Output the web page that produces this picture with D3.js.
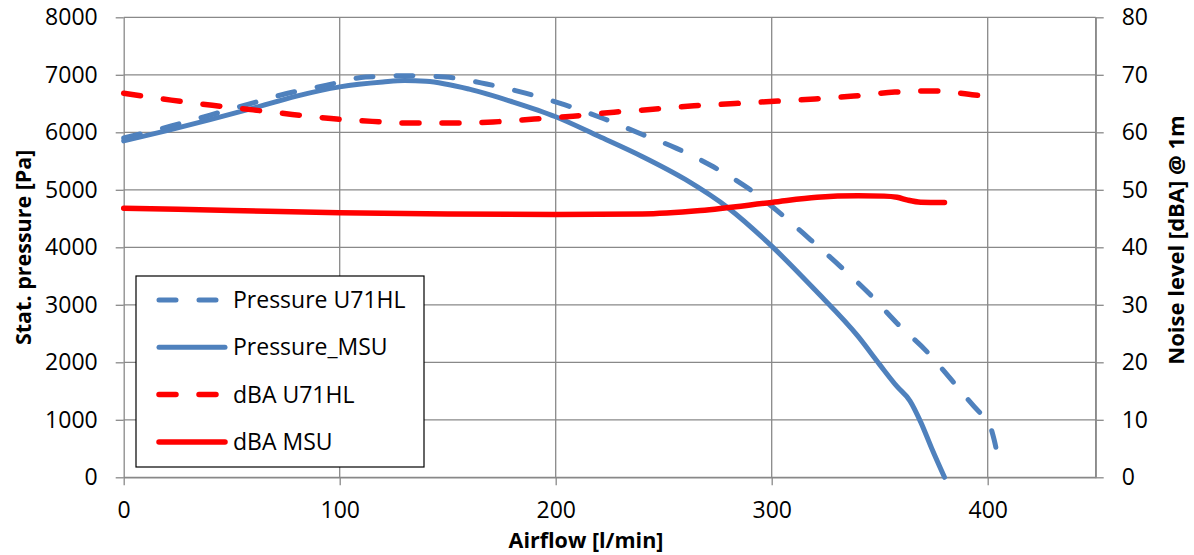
<!DOCTYPE html>
<html>
<head>
<meta charset="utf-8">
<script src="https://cdn.jsdelivr.net/npm/d3@7"></script>
<style>
  body { margin: 0; background: #fff; }
  text { font-family: "Open Sans", sans-serif; fill: #000; }
</style>
</head>
<body>
<div id="chart"></div>
<script>
// data
var msuFlow = [0, 20, 40, 60, 80, 100, 120, 130, 140, 160, 180, 200, 220, 240, 260, 280, 300, 320, 340, 350, 358, 364, 369, 374, 380];
var msuPressure = [5850, 6030, 6220, 6420, 6630, 6790, 6875, 6900, 6887, 6750, 6530, 6270, 5930, 5580, 5180, 4680, 4020, 3260, 2450, 1960, 1580, 1330, 960, 510, 0];

var u71Flow = [0, 22, 40, 57, 75, 94, 112, 131, 149, 168, 186, 204, 222, 239, 256, 273, 289, 304, 318, 332, 345, 358, 372, 384, 396, 400, 403, 405];
var u71Pressure = [5900, 6110, 6300, 6480, 6670, 6820, 6960, 6985, 6960, 6840, 6680, 6480, 6240, 5980, 5720, 5400, 5030, 4590, 4130, 3660, 3200, 2680, 2180, 1660, 1140, 1000, 650, 300];

var dbaU71Flow = [0, 22, 41, 60, 78, 96, 115, 134, 152, 171, 190, 208, 227, 245, 264, 283, 301, 320, 338, 357, 376, 394, 400];
var dbaU71 = [66.8, 65.6, 64.7, 63.9, 63.1, 62.4, 61.9, 61.6, 61.6, 61.8, 62.3, 62.8, 63.5, 64.0, 64.6, 65.0, 65.4, 65.8, 66.3, 67.0, 67.2, 66.5, 66.3];

var dbaMsuFlow = [0, 50, 100, 150, 200, 240, 267, 300, 321, 340, 352, 358, 363, 369, 380];
var dbaMsu = [46.8, 46.4, 46.0, 45.8, 45.7, 45.8, 46.4, 47.8, 48.7, 48.95, 48.9, 48.7, 48.2, 47.85, 47.8];

var flowTicks = [0, 100, 200, 300, 400];
var flowGrid = [100, 200, 300, 400, 450];
var pressureTicks = [0, 1000, 2000, 3000, 4000, 5000, 6000, 7000, 8000];
var noiseTicks = [0, 10, 20, 30, 40, 50, 60, 70, 80];

var svgWidth = 1194;
var svgHeight = 555;
var margin = {top: 17.3, right: 98.3, bottom: 77.7, left: 123.7};
var width = svgWidth - margin.left - margin.right;
var height = svgHeight - margin.top - margin.bottom;

var gridColor = "#898989";
var blue = "#4f81bd";
var red = "#ff0000";

var svg = d3.select("#chart")
  .append("svg")
  .attr("width", svgWidth)
  .attr("height", svgHeight);

var chartGroup = svg.append("g")
  .attr("transform", `translate(${margin.left}, ${margin.top})`);

// Scales
var x = d3.scaleLinear().domain([0, 450]).range([0, width]);
var yLeft = d3.scaleLinear().domain([0, 8000]).range([height, 0]);
var yRight = d3.scaleLinear().domain([0, 80]).range([height, 0]);

// Gridlines
chartGroup.selectAll(".hgrid")
  .data(pressureTicks)
  .enter()
  .append("line")
  .attr("x1", 0).attr("x2", width)
  .attr("y1", d => yLeft(d)).attr("y2", d => yLeft(d))
  .attr("stroke", gridColor).attr("stroke-width", 1.3);

chartGroup.selectAll(".vgrid")
  .data(flowGrid)
  .enter()
  .append("line")
  .attr("x1", d => x(d)).attr("x2", d => x(d))
  .attr("y1", 0).attr("y2", height)
  .attr("stroke", gridColor).attr("stroke-width", 1.3);

// Axes
function styleAxis(g) {
  g.select(".domain").attr("stroke", gridColor).attr("stroke-width", 1.3);
  g.selectAll(".tick line").attr("stroke", gridColor).attr("stroke-width", 1.3);
  g.selectAll(".tick text").attr("font-size", "23px").attr("fill", "#000")
    .style("font-family", "'Open Sans', sans-serif");
}

var fmt = d3.format("d");

chartGroup.append("g")
  .attr("transform", `translate(0, ${height})`)
  .call(d3.axisBottom(x).tickValues(flowTicks).tickFormat(fmt).tickSize(8).tickSizeOuter(0).tickPadding(16))
  .call(styleAxis);

chartGroup.append("g")
  .call(d3.axisLeft(yLeft).tickValues(pressureTicks).tickFormat(fmt).tickSize(8).tickSizeOuter(0).tickPadding(18))
  .call(styleAxis);

chartGroup.append("g")
  .attr("transform", `translate(${width}, 0)`)
  .call(d3.axisRight(yRight).tickValues(noiseTicks).tickFormat(fmt).tickSize(8).tickSizeOuter(0).tickPadding(18))
  .call(styleAxis);

// Series
var series = [
  {name: "Pressure U71HL", xs: u71Flow, ys: u71Pressure, scale: yLeft, color: blue, dash: "17,23", w: 5},
  {name: "Pressure_MSU", xs: msuFlow, ys: msuPressure, scale: yLeft, color: blue, dash: null, w: 5},
  {name: "dBA U71HL", xs: dbaU71Flow, ys: dbaU71, scale: yRight, color: red, dash: "17,23", w: 5.5},
  {name: "dBA MSU", xs: dbaMsuFlow, ys: dbaMsu, scale: yRight, color: red, dash: null, w: 5.5}
];

series.forEach(s => {
  var pts = s.xs.map((v, i) => [v, s.ys[i]]);
  var line = d3.line()
    .x(d => x(d[0]))
    .y(d => s.scale(d[1]))
    .curve(d3.curveMonotoneX);
  chartGroup.append("path")
    .datum(pts)
    .attr("d", line)
    .attr("fill", "none")
    .attr("stroke", s.color)
    .attr("stroke-width", s.w)
    .attr("stroke-linecap", "round")
    .attr("stroke-linejoin", "round")
    .attr("stroke-dasharray", s.dash);
});

// Axis titles
svg.append("text")
  .attr("transform", `translate(31, ${margin.top + height / 2}) rotate(-90)`)
  .attr("text-anchor", "middle")
  .attr("font-size", "21.5px")
  .attr("font-weight", "bold")
  .text("Stat. pressure [Pa]");

svg.append("text")
  .attr("transform", `translate(1184, 240) rotate(-90)`)
  .attr("text-anchor", "middle")
  .attr("font-size", "22px")
  .attr("font-weight", "bold")
  .text("Noise level [dBA] @ 1m");

svg.append("text")
  .attr("x", 586)
  .attr("y", 548)
  .attr("text-anchor", "middle")
  .attr("font-size", "21.5px")
  .attr("font-weight", "bold")
  .text("Airflow [l/min]");

// Legend
var legend = svg.append("g").attr("transform", "translate(136, 276)");
legend.append("rect")
  .attr("width", 288).attr("height", 191)
  .attr("fill", "#fff").attr("stroke", "#000").attr("stroke-width", 1.2);

var items = legend.selectAll(".item")
  .data(series)
  .enter()
  .append("g")
  .attr("transform", (d, i) => `translate(0, ${24 + i * 47.3})`);

items.append("line")
  .attr("x1", 23).attr("x2", d => d.dash ? 82 : 89)
  .attr("y1", 0).attr("y2", 0)
  .attr("stroke", d => d.color)
  .attr("stroke-width", d => d.w)
  .attr("stroke-linecap", "round")
  .attr("stroke-dasharray", d => d.dash);

items.append("text")
  .attr("x", 97)
  .attr("y", 8)
  .attr("font-size", "23px")
  .text(d => d.name);
</script>
</body>
</html>
